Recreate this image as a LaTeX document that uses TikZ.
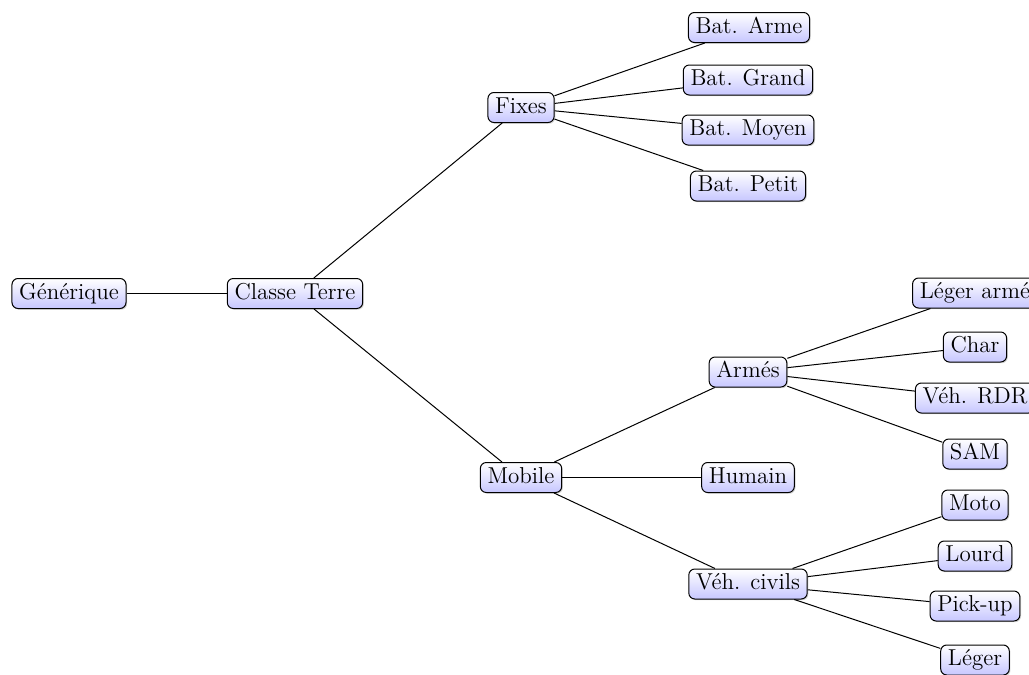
\documentclass[tikz,border=0pt]{standalone}
\usetikzlibrary{shadows}
\tikzset{
  box/.style={draw=black, line width=0.5pt, rounded corners=3pt,
    top color=white, bottom color=blue!22,
    drop shadow={opacity=0.35, shadow xshift=0.6pt, shadow yshift=-0.6pt},
    font=\fontsize{11.5}{13}\selectfont,
    text height=8pt, text depth=2.4pt, inner ysep=2.3pt, inner xsep=3.6pt},
  edge/.style={draw=black, line width=0.5pt}
}
\begin{document}
\begin{tikzpicture}[x=0.5pt,y=-0.5pt]
\useasboundingbox (0,0) rectangle (1029,675);
\node[box] (gen) at (69,293.5) {Générique};
\node[box] (ct) at (295,293.5) {Classe Terre};
\node[box] (fix) at (521,107.5) {Fixes};
\node[box] (ba) at (749,27.5) {Bat. Arme};
\node[box] (bg) at (748,80) {Bat. Grand};
\node[box] (bm) at (748,130) {Bat. Moyen};
\node[box] (bp) at (748,186) {Bat. Petit};
\node[box] (mob) at (521,477.5) {Mobile};
\node[box] (arm) at (748,372) {Armés};
\node[box] (hum) at (748,477.5) {Humain};
\node[box] (vc) at (748,584) {Véh. civils};
\node[box] (la) at (975,293) {Léger armé};
\node[box] (ch) at (975,347) {Char};
\node[box] (rdr) at (975,398) {Véh. RDR};
\node[box] (sam) at (975,454) {SAM};
\node[box] (mo) at (975,505) {Moto};
\node[box] (lo) at (975,556) {Lourd};
\node[box] (pu) at (975,606) {Pick-up};
\node[box] (le) at (975,660) {Léger};
\draw[edge] (gen) -- (ct);
\draw[edge] (ct) -- (fix);
\draw[edge] (ct) -- (mob);
\draw[edge] (fix) -- (ba);
\draw[edge] (fix) -- (bg);
\draw[edge] (fix) -- (bm);
\draw[edge] (fix) -- (bp);
\draw[edge] (mob) -- (arm);
\draw[edge] (mob) -- (hum);
\draw[edge] (mob) -- (vc);
\draw[edge] (arm) -- (la);
\draw[edge] (arm) -- (ch);
\draw[edge] (arm) -- (rdr);
\draw[edge] (arm) -- (sam);
\draw[edge] (vc) -- (mo);
\draw[edge] (vc) -- (lo);
\draw[edge] (vc) -- (pu);
\draw[edge] (vc) -- (le);
\end{tikzpicture}
\end{document}
